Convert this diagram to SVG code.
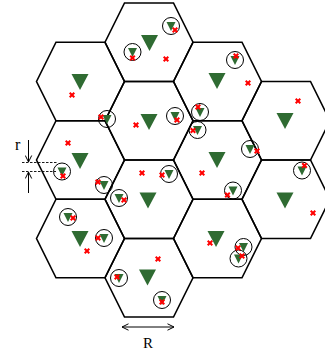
<svg xmlns="http://www.w3.org/2000/svg" xmlns:xlink="http://www.w3.org/1999/xlink" width="325" height="354" viewBox="0 0 325 354">
<style>
.hex{fill:none;stroke:#000;stroke-width:1.6;stroke-linejoin:miter}
.bs{fill:#2f6b32}
.ue{fill:none;stroke:#000;stroke-width:1}
.x{stroke:#f00;stroke-width:2;fill:none;stroke-linecap:butt}
.dim{stroke:#000;stroke-width:1;fill:none}
.dash{stroke:#000;stroke-width:0.9;fill:none;stroke-dasharray:2.5,1.5}
.lbl{font-family:"Liberation Serif","DejaVu Serif",serif;fill:#000}
</style>
<defs>
<polygon id="hex" class="hex" points="-44,0 -24.5,-39.25 24.5,-39.25 44,0 24.5,39.25 -24.5,39.25"/>
<polygon id="bst" class="bs" points="-8.5,-8 8.5,-8 0,8"/>
<g id="u"><circle class="ue" r="8.5"/><polygon class="bs" points="-4.5,-4 4.5,-4 0,5"/></g>
<path id="x" class="x" d="M-2.3,-2.3L2.3,2.3M2.3,-2.3L-2.3,2.3"/>
<marker id="ah" viewBox="0 0 8 8" refX="7.5" refY="4" markerWidth="8" markerHeight="8" markerUnits="userSpaceOnUse" orient="auto-start-reverse">
<path d="M1,0.8L7.5,4L1,7.2" fill="none" stroke="#000" stroke-width="1"/>
</marker>
</defs>
<rect width="325" height="354" fill="#fff"/>
<g id="cells">
<g id="cellA1"><use xlink:href="#hex" x="80.5" y="81.5"/><use xlink:href="#bst" x="80" y="82"/></g>
<g id="cellA2"><use xlink:href="#hex" x="80.5" y="160"/><use xlink:href="#bst" x="80" y="161"/></g>
<g id="cellA3"><use xlink:href="#hex" x="80.5" y="238.5"/><use xlink:href="#bst" x="80" y="239"/></g>
<g id="cellB1"><use xlink:href="#hex" x="149" y="42.25"/><use xlink:href="#bst" x="149.5" y="43"/></g>
<g id="cellB2"><use xlink:href="#hex" x="149" y="120.75"/><use xlink:href="#bst" x="149" y="122"/></g>
<g id="cellB3"><use xlink:href="#hex" x="149" y="199.25"/><use xlink:href="#bst" x="148" y="200.5"/></g>
<g id="cellB4"><use xlink:href="#hex" x="149" y="277.75"/><use xlink:href="#bst" x="147.5" y="277.5"/></g>
<g id="cellC1"><use xlink:href="#hex" x="217.5" y="81.5"/><use xlink:href="#bst" x="217" y="81"/></g>
<g id="cellC2"><use xlink:href="#hex" x="217.5" y="160"/><use xlink:href="#bst" x="217" y="160"/></g>
<g id="cellC3"><use xlink:href="#hex" x="217.5" y="238.5"/><use xlink:href="#bst" x="216" y="239"/></g>
<g id="cellD1"><use xlink:href="#hex" x="286" y="120.75"/><use xlink:href="#bst" x="285" y="121"/></g>
<g id="cellD2"><use xlink:href="#hex" x="286" y="199.25"/><use xlink:href="#bst" x="285" y="200.5"/></g>
</g>
<g id="users">
<use xlink:href="#u" x="132.5" y="52"/>
<use xlink:href="#u" x="171" y="26"/>
<use xlink:href="#u" x="235" y="60"/>
<use xlink:href="#u" x="107" y="119"/>
<use xlink:href="#u" x="175" y="116"/>
<use xlink:href="#u" x="200" y="112"/>
<use xlink:href="#u" x="197.5" y="130"/>
<use xlink:href="#u" x="62" y="171.5"/>
<use xlink:href="#u" x="250" y="149"/>
<use xlink:href="#u" x="302" y="170.5"/>
<use xlink:href="#u" x="169" y="174"/>
<use xlink:href="#u" x="104" y="185"/>
<use xlink:href="#u" x="119" y="198"/>
<use xlink:href="#u" x="233" y="190.5"/>
<use xlink:href="#u" x="68" y="217"/>
<use xlink:href="#u" x="104" y="238"/>
<use xlink:href="#u" x="119" y="278"/>
<use xlink:href="#u" x="162" y="300"/>
<use xlink:href="#u" x="243.5" y="247"/>
<use xlink:href="#u" x="238.5" y="258.5"/>
</g>
<g id="markers">
<use xlink:href="#x" x="132.5" y="58"/>
<use xlink:href="#x" x="175" y="30"/>
<use xlink:href="#x" x="236" y="56"/>
<use xlink:href="#x" x="101" y="117"/>
<use xlink:href="#x" x="177" y="120"/>
<use xlink:href="#x" x="198" y="107"/>
<use xlink:href="#x" x="193" y="130.5"/>
<use xlink:href="#x" x="63" y="176"/>
<use xlink:href="#x" x="257" y="151"/>
<use xlink:href="#x" x="304.5" y="165.5"/>
<use xlink:href="#x" x="162" y="175"/>
<use xlink:href="#x" x="98" y="182"/>
<use xlink:href="#x" x="124" y="200"/>
<use xlink:href="#x" x="227.5" y="195"/>
<use xlink:href="#x" x="73" y="218"/>
<use xlink:href="#x" x="98" y="238"/>
<use xlink:href="#x" x="117" y="277"/>
<use xlink:href="#x" x="162" y="302"/>
<use xlink:href="#x" x="238" y="248"/>
<use xlink:href="#x" x="242" y="256"/>
<use xlink:href="#x" x="166" y="59"/>
<use xlink:href="#x" x="72" y="95"/>
<use xlink:href="#x" x="136" y="125"/>
<use xlink:href="#x" x="68" y="143"/>
<use xlink:href="#x" x="142" y="173"/>
<use xlink:href="#x" x="248" y="83"/>
<use xlink:href="#x" x="298" y="101"/>
<use xlink:href="#x" x="202" y="173"/>
<use xlink:href="#x" x="313" y="213"/>
<use xlink:href="#x" x="210" y="243"/>
<use xlink:href="#x" x="87" y="251"/>
<use xlink:href="#x" x="158" y="259"/>
</g>
<g id="connectors">
<line class="dash" x1="22" y1="162.5" x2="58" y2="162.5"/>
<line class="dash" x1="22" y1="171.5" x2="56" y2="171.5"/>
<line class="dim" x1="28.5" y1="140" x2="28.5" y2="162" marker-end="url(#ah)"/>
<line class="dim" x1="28.5" y1="193" x2="28.5" y2="172" marker-end="url(#ah)"/>
<line class="dim" x1="122" y1="327" x2="174" y2="327" marker-start="url(#ah)" marker-end="url(#ah)"/>
</g>
<g id="labels">
<text class="lbl" x="15" y="150" font-size="16">r</text>
<text class="lbl" x="148" y="348" font-size="15" text-anchor="middle">R</text>
</g>
</svg>
